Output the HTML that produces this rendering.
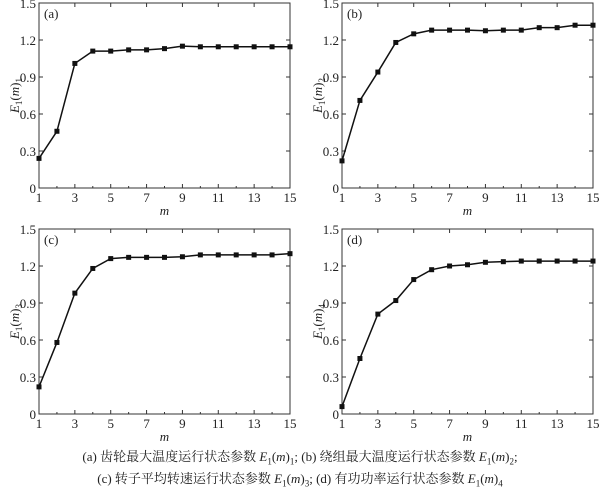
<!DOCTYPE html>
<html><head><meta charset="utf-8">
<style>
body{margin:0;background:#fff;width:600px;height:495px;overflow:hidden}
svg text{font-family:"Liberation Serif","Noto Serif CJK SC",serif;fill:#222}
.cap{position:absolute;left:0;width:600px;text-align:center;font-family:"Liberation Serif","Noto Serif CJK SC",serif;font-size:13px;color:#222;white-space:nowrap}
</style></head>
<body>
<svg id="chart" width="600" height="495" style="position:absolute;left:0;top:0"></svg>
<div class="cap" style="top:446px">(a) 齿轮最大温度运行状态参数 <i>E</i><sub style="font-size:9px">1</sub>(<i>m</i>)<sub style="font-size:9px">1</sub>; (b) 绕组最大温度运行状态参数 <i>E</i><sub style="font-size:9px">1</sub>(<i>m</i>)<sub style="font-size:9px">2</sub>;</div>
<div class="cap" style="top:468px">(c) 转子平均转速运行状态参数 <i>E</i><sub style="font-size:9px">1</sub>(<i>m</i>)<sub style="font-size:9px">3</sub>; (d) 有功功率运行状态参数 <i>E</i><sub style="font-size:9px">1</sub>(<i>m</i>)<sub style="font-size:9px">4</sub></div>
<script>
const categories=[1,2,3,4,5,6,7,8,9,10,11,12,13,14,15];
const xTickLabels=[1,3,5,7,9,11,13,15];
const yTickLabels=[0,0.3,0.6,0.9,1.2,1.5];
const seriesA=[0.24,0.46,1.01,1.11,1.11,1.12,1.12,1.13,1.15,1.145,1.145,1.145,1.145,1.145,1.145];
const seriesB=[0.22,0.71,0.94,1.18,1.25,1.28,1.28,1.28,1.275,1.28,1.28,1.30,1.30,1.32,1.32];
const seriesC=[0.22,0.58,0.98,1.18,1.26,1.27,1.27,1.27,1.275,1.29,1.29,1.29,1.29,1.29,1.30];
const seriesD=[0.06,0.45,0.81,0.92,1.09,1.17,1.20,1.21,1.23,1.235,1.24,1.24,1.24,1.24,1.24];
const panelLabels=["(a)","(b)","(c)","(d)"];
const subs=["1","2","3","4"];
const NS="http://www.w3.org/2000/svg";
const svg=document.getElementById('chart');
function mk(tag,attrs,parent,txt){const e=document.createElementNS(NS,tag);for(const k in attrs)e.setAttribute(k,attrs[k]);if(txt!==undefined)e.textContent=txt;parent.appendChild(e);return e;}
const panels=[{x:39,y:3,d:seriesA},{x:342,y:3,d:seriesB},{x:39,y:229,d:seriesC},{x:342,y:229,d:seriesD}];
const W=251,H=185;
panels.forEach((p,i)=>{
  const g=mk('g',{},svg);
  
  
  const xs=v=>p.x+(v-1)/14*W;
  const ys=v=>p.y+H-(v/1.5)*H;
  const fr=mk('rect',{x:p.x,y:p.y,width:W,height:H,fill:'none',stroke:'#333','stroke-width':1},g);
  
  
  yTickLabels.forEach(t=>{
    const y=ys(t);
    mk('line',{x1:p.x,x2:p.x+4,y1:y,y2:y,stroke:'#333'},g);
    mk('line',{x1:p.x+W,x2:p.x+W-4,y1:y,y2:y,stroke:'#333'},g);
    const tl=mk('text',{x:p.x-3,y:y+5,'text-anchor':'end','font-size':13},g,String(t));
    
    
  });
  xTickLabels.forEach(t=>{
    const x=xs(t);
    mk('line',{x1:x,x2:x,y1:p.y+H,y2:p.y+H-4,stroke:'#333'},g);
    mk('line',{x1:x,x2:x,y1:p.y,y2:p.y+4,stroke:'#333'},g);
    const tl=mk('text',{x:x,y:p.y+H+14,'text-anchor':'middle','font-size':13},g,String(t));
    
    
  });
  categories.forEach(c=>{if(!xTickLabels.includes(c)){const x=xs(c);mk('line',{x1:x,x2:x,y1:p.y+H,y2:p.y+H-2,stroke:'#333'},g);}});
  const xt=mk('text',{x:p.x+W/2,y:p.y+H+27,'text-anchor':'middle','font-size':13,'font-style':'italic'},g,'m');
  
  
  const yt=mk('text',{transform:`translate(${p.x-20},${p.y+H/2}) rotate(-90)`,'text-anchor':'middle','font-size':13},g);
  
  
  mk('tspan',{'font-style':'italic'},yt,'E');
  mk('tspan',{'font-size':9,dy:3},yt,'1');
  mk('tspan',{dy:-3},yt,'(');
  mk('tspan',{'font-style':'italic'},yt,'m');
  mk('tspan',{},yt,')');
  mk('tspan',{'font-size':9,dy:3},yt,subs[i]);
  const pl=mk('text',{x:p.x+5,y:p.y+15,'font-size':13},g,panelLabels[i]);
  
  
  const pts=p.d.map((v,k)=>xs(categories[k])+','+ys(v)).join(' ');
  const ln=mk('polyline',{points:pts,fill:'none',stroke:'#111','stroke-width':1.5},g);
  
  
  p.d.forEach((v,k)=>{
    const m=mk('rect',{x:xs(categories[k])-2.5,y:ys(v)-2.5,width:5,height:5,fill:'#111'},g);
    
    
  });
});
</script>
</body></html>
